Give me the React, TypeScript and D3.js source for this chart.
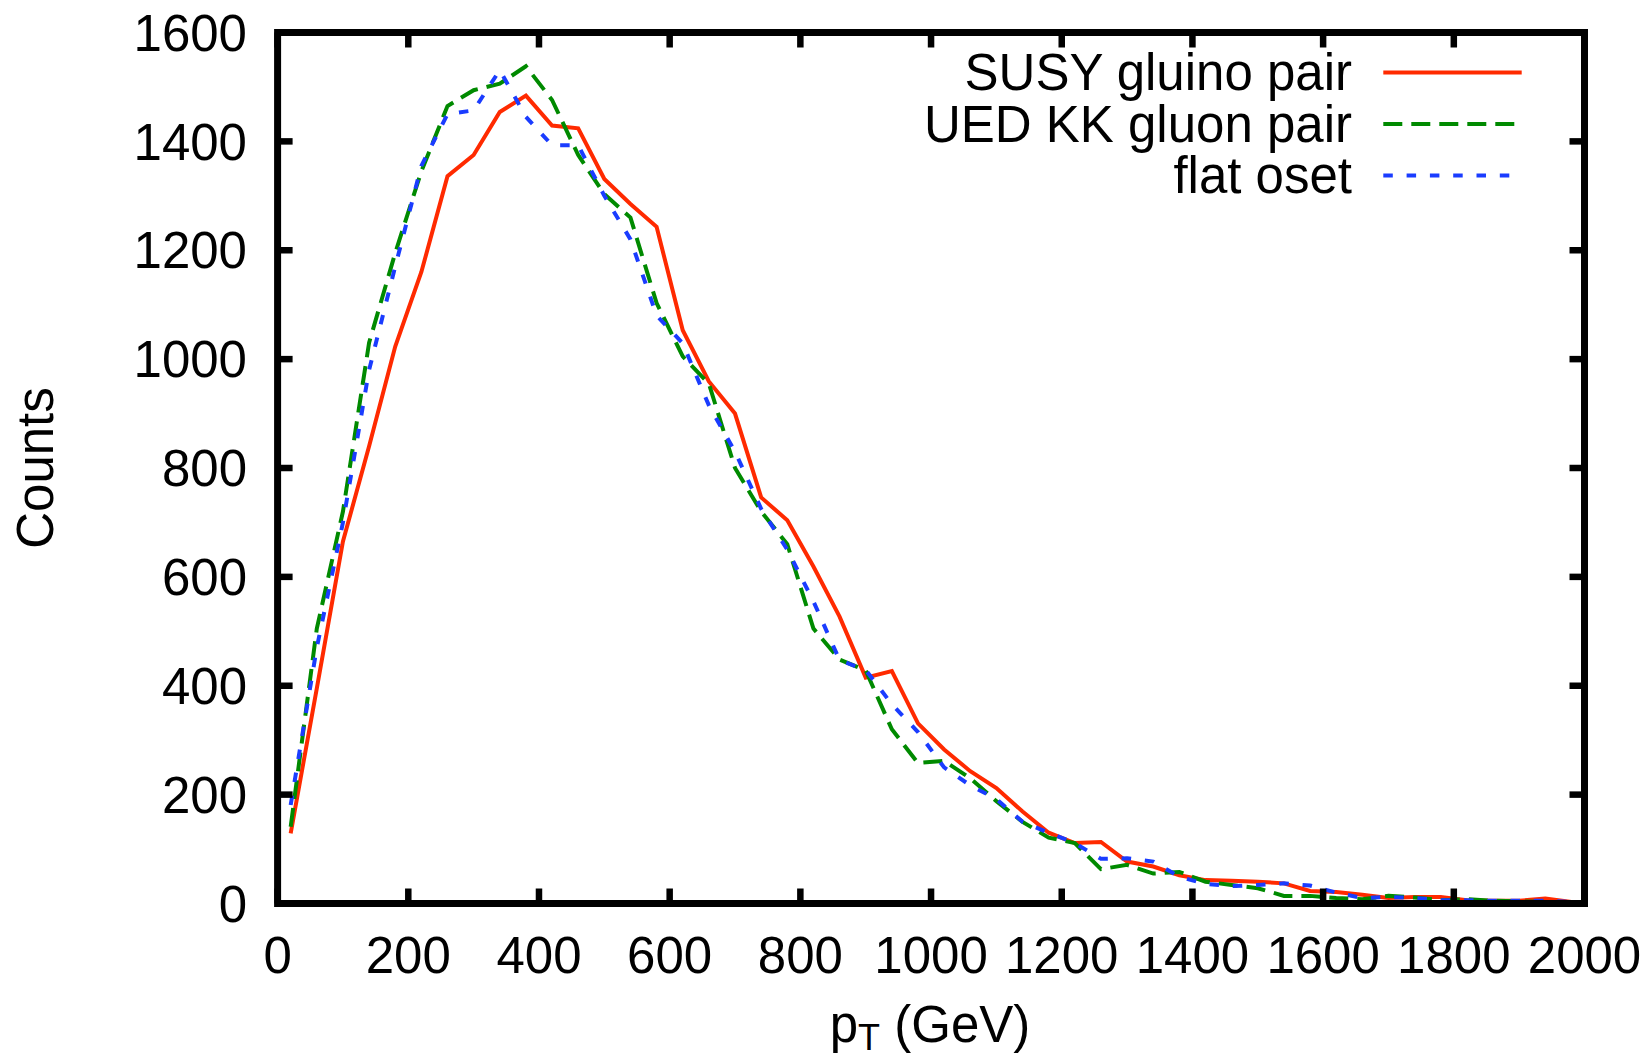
import React from "react";
import * as d3 from "d3";

const ptBins = [20,60,100,140,180,220,260,300,340,380,420,460,500,540,580,620,660,700,740,780,820,860,900,940,980,1020,1060,1100,1140,1180,1220,1260,1300,1340,1380,1420,1460,1500,1540,1580,1620,1660,1700,1740,1780,1820,1860,1900,1940,1980];

const susyCounts = [129,395,665,840,1023,1160,1336,1375,1454,1484,1429,1424,1331,1285,1243,1053,959,900,746,704,619,527,415,427,331,283,243,212,169,130,111,113,77,68,52,43,42,40,37,23,21,16,10,12,12,6,5,5,9,3];

const uedCounts = [141,505,720,1030,1195,1345,1465,1494,1506,1538,1476,1375,1303,1260,1103,1005,955,800,720,660,505,448,428,320,258,262,230,188,150,121,111,63,71,55,58,40,34,28,14,14,10,8,14,11,6,8,5,4,3,2];

const osetCounts = [181,470,700,980,1170,1355,1450,1457,1531,1445,1393,1393,1300,1220,1080,1029,915,830,725,650,555,447,429,366,315,250,217,192,150,130,111,82,83,77,49,36,32,34,37,33,20,10,12,10,6,6,5,5,5,3];

const xTicks = [0,200,400,600,800,1000,1200,1400,1600,1800,2000];
const yTicks = [0,200,400,600,800,1000,1200,1400,1600];

const seriesNames = ["SUSY gluino pair", "UED KK gluon pair", "flat oset"];

const FONT = "'Liberation Sans', Arial, Helvetica, sans-serif";

export default function App() {
  const W = 1652, H = 1060;
  const L = 277.6, R = 1584.5, T = 32.5, B = 903.5;
  const x = d3.scaleLinear().domain([0, 2000]).range([L, R]);
  const y = d3.scaleLinear().domain([0, 1600]).range([B, T]);
  const line = d3.line<number>().x((_, i) => x(ptBins[i])).y((d) => y(d));

  const series = [
    { name: seriesNames[0], data: susyCounts, color: "#ff2a00", dash: undefined as string | undefined },
    { name: seriesNames[1], data: uedCounts, color: "#008a00", dash: "19,9" },
    { name: seriesNames[2], data: osetCounts, color: "#1a3cff", dash: "9.5,13.8" },
  ];

  const fs = 51;
  const tickLen = 15;
  const legendBase = [90, 141.5, 193];

  return (
    <svg width={W} height={H} style={{ position: "absolute", left: 0, top: 0, background: "#fff" }} fontFamily={FONT}>
      <rect x={0} y={0} width={W} height={H} fill="#fff" />
      <defs>
        <clipPath id="plotclip">
          <rect x={L} y={T} width={R - L} height={B - T} />
        </clipPath>
      </defs>
      <g clipPath="url(#plotclip)">
        {series.map((s) => (
          <path key={s.name} d={line(s.data) || ""} fill="none" stroke={s.color} strokeWidth={4} strokeDasharray={s.dash} strokeLinejoin="miter" />
        ))}
      </g>
      {xTicks.map((t) => (
        <g key={"xt" + t}>
          <line x1={x(t)} x2={x(t)} y1={B} y2={B - tickLen} stroke="#000" strokeWidth={6.5} />
          <line x1={x(t)} x2={x(t)} y1={T} y2={T + tickLen} stroke="#000" strokeWidth={6.5} />
          <text x={x(t)} y={972.5} fontSize={fs} textAnchor="middle" fill="#000">{t}</text>
        </g>
      ))}
      {yTicks.map((t) => (
        <g key={"yt" + t}>
          <line x1={L} x2={L + tickLen} y1={y(t)} y2={y(t)} stroke="#000" strokeWidth={6.5} />
          <line x1={R} x2={R - tickLen} y1={y(t)} y2={y(t)} stroke="#000" strokeWidth={6.5} />
          <text x={247} y={y(t) + 18.2} fontSize={fs} textAnchor="end" fill="#000">{t}</text>
        </g>
      ))}
      <rect x={L} y={T} width={R - L} height={B - T} fill="none" stroke="#000" strokeWidth={7} />
      <text transform="translate(53,468) rotate(-90)" fontSize={fs} textAnchor="middle" fill="#000">Counts</text>
      <text x={930} y={1042} fontSize={fs} textAnchor="middle" fill="#000">
        p<tspan fontSize={36} dy={8}>T</tspan><tspan dy={-8}> (GeV)</tspan>
      </text>
      {series.map((s, i) => (
        <g key={"lg" + i}>
          <text x={1352} y={legendBase[i]} fontSize={fs} textAnchor="end" fill="#000">{s.name}</text>
          <line x1={1383.3} x2={1521.7} y1={legendBase[i] - 17.5} y2={legendBase[i] - 17.5} stroke={s.color} strokeWidth={4} strokeDasharray={s.dash} />
        </g>
      ))}
    </svg>
  );
}
